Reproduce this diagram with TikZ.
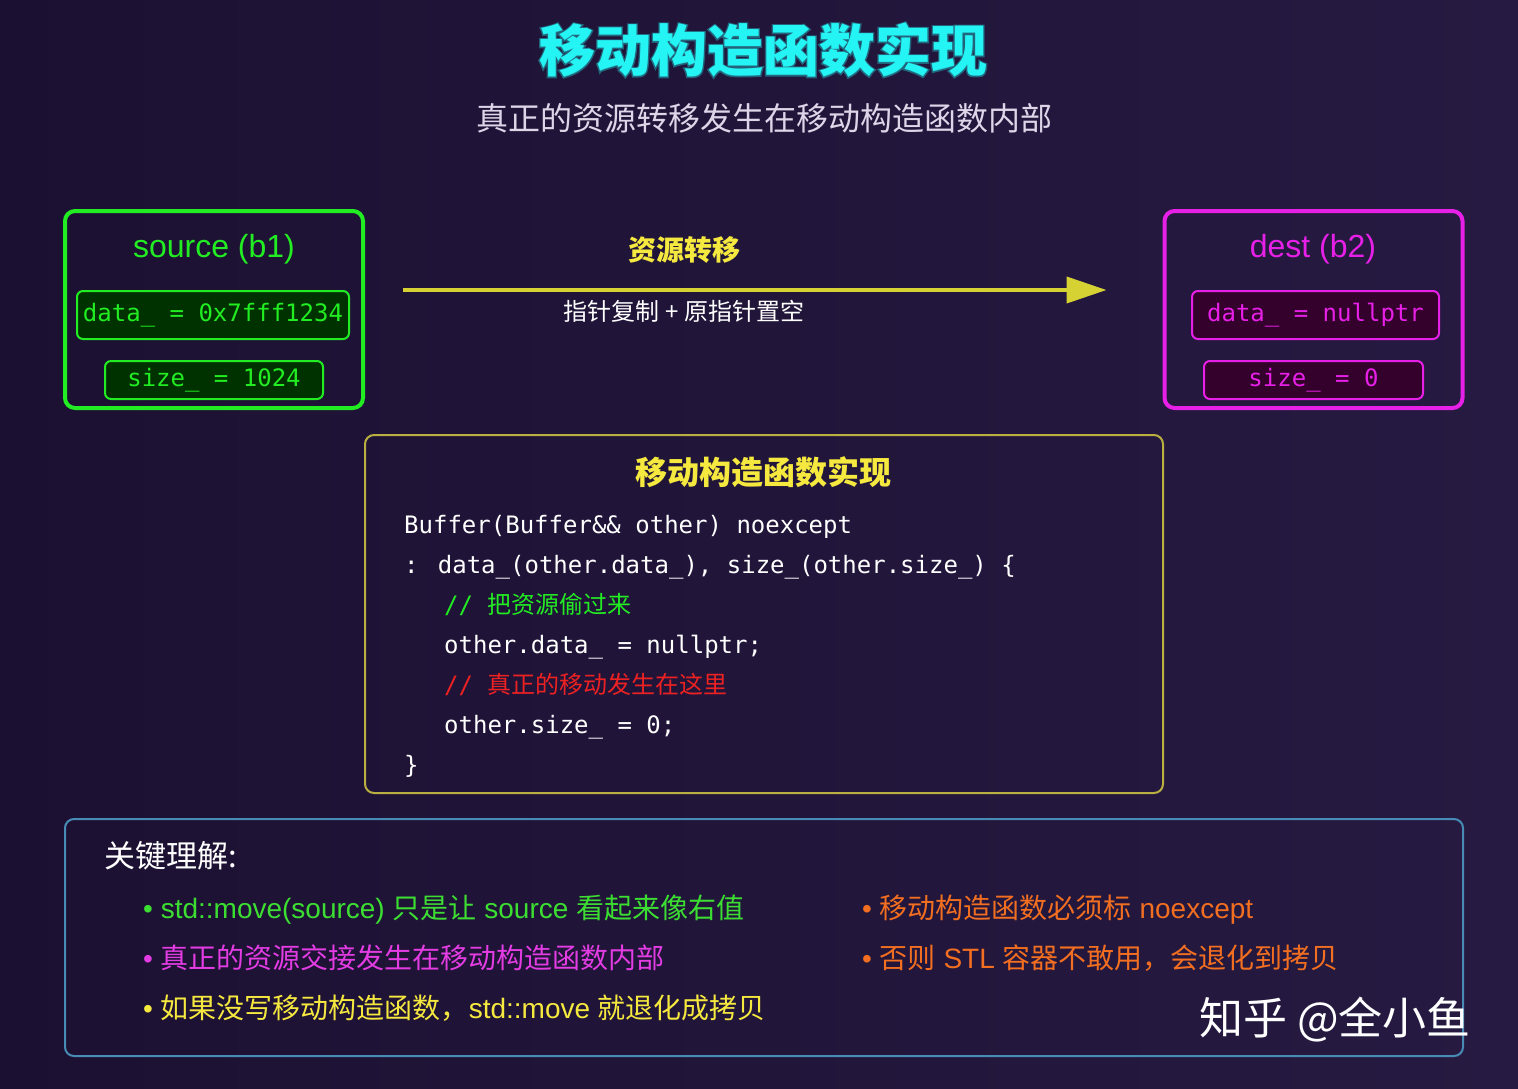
\documentclass[tikz,border=0pt]{standalone}
\usepackage{fontspec}
\setmainfont{Liberation Sans}
\newfontfamily\cjk{Noto Sans CJK SC}
\newfontfamily\cjkglow[FakeBold=5]{Noto Sans CJK SC}
\newfontfamily\mono{DejaVu Sans Mono}
\usetikzlibrary{arrows.meta}
\newcommand\sz[1]{\fontsize{#1}{#1}\selectfont}

\definecolor{bgleft}{RGB}{28,16,50}
\definecolor{bgright}{RGB}{38,26,66}
\definecolor{neon}{RGB}{34,236,34}
\definecolor{neondk}{RGB}{0,50,0}
\definecolor{pinky}{RGB}{230,32,230}
\definecolor{pinkdk}{RGB}{52,0,44}
\definecolor{lemon}{RGB}{214,210,52}
\definecolor{gold}{RGB}{245,232,62}
\definecolor{olive}{RGB}{186,176,66}
\definecolor{steel}{RGB}{72,140,182}
\definecolor{aqua}{RGB}{36,244,244}
\definecolor{mist}{RGB}{222,214,232}
\definecolor{leaf}{RGB}{60,222,50}
\definecolor{rose}{RGB}{226,60,226}
\definecolor{amber}{RGB}{242,110,32}
\definecolor{alarm}{RGB}{236,34,34}

\begin{document}
\begin{tikzpicture}[
    x=1pt, y=-1pt,
    obj/.style={draw, line width=4pt, rounded corners=10pt, inner sep=0pt,
      minimum width=298pt, minimum height=197pt},
    field/.style={draw, line width=2pt, rounded corners=6pt, inner sep=0pt,
      font=\mono\sz{24}},
    panel/.style={draw, line width=2pt, rounded corners=9pt, inner sep=0pt},
    code/.style={anchor=base west, inner sep=0pt, font=\mono\sz{24}, text=white},
    tip/.style={anchor=base west, inner sep=0pt, font=\sz{28}},
    flow/.style={-{Triangle[length=40pt, width=26pt]}, line width=4pt, lemon}
  ]
    % background
    \fill[left color=bgleft, right color=bgright] (0,0) rectangle (1518,1088);

    % title
    \node[text=aqua, opacity=0.35, font=\cjkglow\bfseries\sz{56}] (ttlglow) at (763,50)
      {移动构造函数实现};
    \node[text=aqua, font=\cjk\bfseries\sz{56}] (ttl) at (763,50) {移动构造函数实现};
    \node[text=mist, font=\cjk\sz{32}] (sub) at (764,118)
      {真正的资源转移发生在移动构造函数内部};

    % source object
    \node[obj, neon] (src) at (214,309.5) {};
    \node[text=neon, font=\sz{32}] (srct) at (214,249) {source (b1)};
    \node[field, neon, fill=neondk, minimum width=272pt, minimum height=48pt] (srcd)
      at (213,315) {data\_ = 0x7fff1234};
    \node[field, neon, fill=neondk, minimum width=218pt, minimum height=38pt] (srcs)
      at (214,380) {size\_ = 1024};

    % dest object
    \node[obj, pinky] (dst) at (1313.5,309.5) {};
    \node[text=pinky, font=\sz{32}] (dstt) at (1313,249) {dest (b2)};
    \node[field, pinky, fill=pinkdk, minimum width=247pt, minimum height=48pt] (dstd)
      at (1315.5,315) {data\_ = nullptr};
    \node[field, pinky, fill=pinkdk, minimum width=219pt, minimum height=38pt] (dsts)
      at (1313.5,380) {size\_ = 0};

    % transfer
    \draw[flow, shorten <=38pt, shorten >=56pt] (src.east |- 0,290) -- (dst.west |- 0,290);
    \node[text=gold, font=\cjk\bfseries\sz{28}] (mvl) at (684,250) {资源转移};
    \node[text=white, font=\cjk\sz{24}] (mvn) at (684,311) {指针复制 + 原指针置空};

    % constructor code
    \node[panel, olive, minimum width=798pt, minimum height=358pt] (code) at (764,614) {};
    \node[text=gold, font=\cjk\bfseries\sz{32}] (codet) at (763,472) {移动构造函数实现};
    \node[code] (c1) at (404,533) {Buffer(Buffer\&\& other) noexcept};
    \node[code] (c2) at (404,573) {: data\_(other.data\_), size\_(other.size\_) \{};
    \node[code, text=neon] (c3) at (444,613) {// {\cjk\sz{24}把资源偷过来}};
    \node[code] (c4) at (444,653) {other.data\_ = nullptr;};
    \node[code, text=alarm] (c5) at (444,693) {// {\cjk\sz{24}真正的移动发生在这里}};
    \node[code] (c6) at (444,733) {other.size\_ = 0;};
    \node[code] (c7) at (404,773) {\}};

    % key points
    \node[panel, steel, minimum width=1398pt, minimum height=237pt] (keys) at (764,937.5) {};
    \node[anchor=west, inner sep=0pt, text=white, font=\cjk\sz{31}] (keyt)
      at (104,856) {关键理解:};
    \node[tip, text=leaf] (k1) at (143,918)
      {• std::move(source) {\cjk 只是让} source {\cjk 看起来像右值}};
    \node[tip, text=rose] (k2) at (143,968) {• {\cjk 真正的资源交接发生在移动构造函数内部}};
    \node[tip, text=gold] (k3) at (143,1018)
      {• {\cjk 如果没写移动构造函数，}std::move {\cjk 就退化成拷贝}};
    \node[tip, text=amber] (k4) at (862,918) {• {\cjk 移动构造函数必须标} noexcept};
    \node[tip, text=amber] (k5) at (862,968) {• {\cjk 否则} STL {\cjk 容器不敢用，会退化到拷贝}};

    % watermark
    \node[text=white, font=\cjk\sz{44}] (mark) at (1335,1020) {知乎 @全小鱼};
\end{tikzpicture}
\end{document}
